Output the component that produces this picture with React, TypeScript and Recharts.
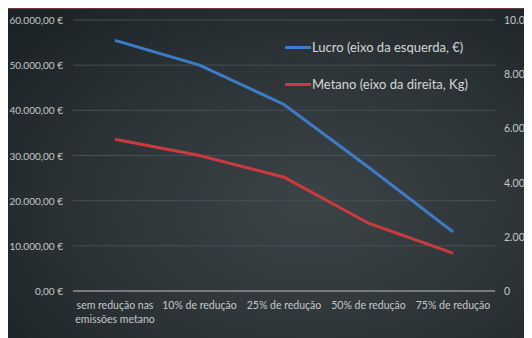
import { LineChart, Line, XAxis, YAxis, CartesianGrid } from 'recharts';

const categories = [
  'sem redução nas|emissões metano',
  '10% de redução',
  '25% de redução',
  '50% de redução',
  '75% de redução',
];
const lucro = [55500, 50000, 41300, 27400, 13100];
const metano = [5600, 5000, 4200, 2500, 1400];
const leftTicks = [0, 10000, 20000, 30000, 40000, 50000, 60000];
const rightTicks = [0, 2000, 4000, 6000, 8000, 10000];
const seriesNames = ['Lucro (eixo da esquerda, €)', 'Metano (eixo da direita, Kg)'];
const seriesColors = ['#3d7cc9', '#cc3a40'];

const data = categories.map((c, i) => ({ name: c, lucro: lucro[i], metano: metano[i] }));

const thousands = (n: number) => String(Math.round(n)).replace(/\B(?=(\d{3})+(?!\d))/g, '.');
const euro = (n: number) => `${thousands(n)},00 €`;

const TEXT = '#c6c8c9';
const FONT = 'Lato';

const XTick = (props: any) => {
  const { x, y, payload } = props;
  const lines = String(payload.value).split('|');
  return (
    <text x={x} y={y + 10} textAnchor="middle" fill={TEXT} fontSize={10.5} fontFamily={FONT}>
      {lines.map((l, i) => (
        <tspan key={i} x={x} dy={i === 0 ? 0 : 14}>{l}</tspan>
      ))}
    </text>
  );
};

const LeftTick = (props: any) => {
  const { x, y, payload } = props;
  return (
    <text x={x} y={y + 4} textAnchor="end" fill={TEXT} fontSize={10} fontFamily={FONT}>
      {euro(payload.value)}
    </text>
  );
};

const RightTick = (props: any) => {
  const { x, y, payload } = props;
  return (
    <text x={x} y={y + 4} textAnchor="start" fill={TEXT} fontSize={10.5} fontFamily={FONT}>
      {thousands(payload.value)}
    </text>
  );
};

export default function App() {
  return (
    <div
      style={{
        position: 'relative',
        width: 524,
        height: 330,
        borderTop: '1px solid #6a3c40',
        boxSizing: 'border-box',
        background: 'radial-gradient(ellipse 75% 80% at 58% 60%, #3c4448 0%, #2c3437 55%, #1c2326 100%)',
      }}
    >
      <LineChart width={524} height={329} data={data} margin={{ top: 11, right: 0, bottom: 0, left: 0 }}>
        <CartesianGrid yAxisId="left" vertical={false} stroke="#485054" strokeWidth={1} />
        <XAxis
          dataKey="name"
          tick={<XTick />}
          tickLine={false}
          axisLine={{ stroke: '#8a8e90', strokeWidth: 1.5 }}
          interval={0}
          height={47}
          padding={{ left: 42, right: 42 }}
        />
        <YAxis
          yAxisId="left"
          domain={[0, 60000]}
          ticks={leftTicks}
          axisLine={false}
          tickLine={false}
          width={65}
          tickMargin={4}
          tick={<LeftTick />}
        />
        <YAxis
          yAxisId="right"
          orientation="right"
          domain={[0, 10000]}
          ticks={rightTicks}
          axisLine={false}
          tickLine={false}
          width={37}
          tickMargin={3}
          tick={<RightTick />}
        />
        <Line yAxisId="left" type="linear" dataKey="lucro" stroke={seriesColors[0]} strokeWidth={3} dot={false} isAnimationActive={false} />
        <Line yAxisId="right" type="linear" dataKey="metano" stroke={seriesColors[1]} strokeWidth={3} dot={false} isAnimationActive={false} />
      </LineChart>
      <div style={{ position: 'absolute', left: 277, top: 28, fontFamily: FONT, fontSize: 13, color: '#d4d6d7' }}>
        {seriesNames.map((t, i) => (
          <div key={i} style={{ display: 'flex', alignItems: 'center', height: 20, marginBottom: i === 0 ? 17 : 0 }}>
            <span style={{ display: 'inline-block', width: 26, height: 3, background: seriesColors[i], marginRight: 1 }} />
            <span>{t}</span>
          </div>
        ))}
      </div>
    </div>
  );
}
